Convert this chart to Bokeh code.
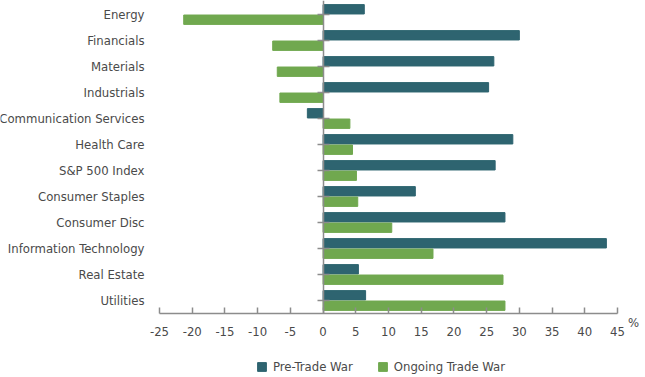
from bokeh.plotting import figure
from bokeh.models import (Range1d, FixedTicker, LinearAxis, CustomJSTickFormatter,
                          Legend, LegendItem, Label, ColumnDataSource)
from bokeh.transform import dodge
from bokeh.embed import file_html
from bokeh.resources import INLINE

categories = ["Energy", "Financials", "Materials", "Industrials",
              "Communication Services", "Health Care", "S&P 500 Index",
              "Consumer Staples", "Consumer Disc", "Information Technology",
              "Real Estate", "Utilities"]
pre_trade_war = [6.3, 30.0, 26.1, 25.3, -2.4, 29.0, 26.3, 14.1, 27.8, 43.3, 5.4, 6.5]
ongoing_trade_war = [-21.3, -7.7, -7.0, -6.6, 4.1, 4.5, 5.1, 5.3, 10.5, 16.8, 27.5, 27.8]
x_ticks = [-25, -20, -15, -10, -5, 0, 5, 10, 15, 20, 25, 30, 35, 40, 45]
series_names = ["Pre-Trade War", "Ongoing Trade War"]

FONT = "DejaVu Sans Condensed"
FS = "13px"
TEXT_COLOR = "#4a4a4a"
AXIS_COLOR = "#8c8c8c"
TEAL = "#2e6470"
GREEN = "#70a84f"

W, H = 645, 377
PLOT_LEFT_PX, PLOT_RIGHT_PX = 159, 617   # pixel span of the value axis
BAND_PX = 26.0                            # pixel height of one category band
TOP_CENTER_PX = 14.0                      # pixel y of first category centre
X_MIN, X_MAX = x_ticks[0], x_ticks[-1]

n = len(categories)
positions = list(range(n))[::-1]          # first category on top
px_per_unit = (PLOT_RIGHT_PX - PLOT_LEFT_PX) / (X_MAX - X_MIN)
x_start = X_MIN - PLOT_LEFT_PX / px_per_unit
x_end = X_MAX + (W - PLOT_RIGHT_PX) / px_per_unit
y_top = positions[0] + TOP_CENTER_PX / BAND_PX
y_bottom = y_top - H / BAND_PX
axis_y = positions[-1] - 0.5

source = ColumnDataSource(dict(pos=positions, cat=categories,
                               pre=pre_trade_war, ongoing=ongoing_trade_war))

p = figure(width=W, height=H,
           x_range=Range1d(x_start, x_end), y_range=Range1d(y_bottom, y_top),
           x_axis_location=None, y_axis_location=None,
           output_backend="svg", toolbar_location=None,
           min_border_left=0, min_border_right=0,
           min_border_top=0, min_border_bottom=0)
p.grid.visible = False
p.outline_line_color = None

r_pre = p.hbar(y=dodge("pos", 0.2), right="pre", left=0, height=0.36,
               source=source, fill_color=TEAL, line_color=TEAL)
r_on = p.hbar(y=dodge("pos", -0.2), right="ongoing", left=0, height=0.36,
              source=source, fill_color=GREEN, line_color=GREEN)

# category labels
cat_axis = LinearAxis(fixed_location=X_MIN, ticker=FixedTicker(ticks=positions),
                      major_label_overrides={pos: c for pos, c in zip(positions, categories)},
                      axis_line_color=None, major_tick_line_color=None,
                      minor_tick_line_color=None, major_label_standoff=9,
                      major_label_text_font=FONT, major_label_text_font_size=FS,
                      major_label_text_color=TEXT_COLOR)
p.add_layout(cat_axis, "left")

# zero line with small ticks at each category
zero_axis = LinearAxis(fixed_location=0, bounds=(axis_y, y_top),
                       ticker=FixedTicker(ticks=positions),
                       formatter=CustomJSTickFormatter(code="return ''"),
                       axis_line_color=AXIS_COLOR, axis_line_width=1.5,
                       major_tick_in=6, major_tick_out=6,
                       major_tick_line_color=AXIS_COLOR, major_tick_line_width=1.5,
                       minor_tick_line_color=None)
p.add_layout(zero_axis, "left")

# value axis
x_axis = LinearAxis(fixed_location=axis_y, bounds=(X_MIN, X_MAX),
                    ticker=FixedTicker(ticks=x_ticks),
                    major_label_overrides={t: str(t) for t in x_ticks},
                    axis_line_color=AXIS_COLOR, axis_line_width=1.5,
                    major_tick_in=6, major_tick_out=0,
                    major_tick_line_color=AXIS_COLOR, major_tick_line_width=1.5,
                    minor_tick_line_color=None, major_label_standoff=13,
                    major_label_text_font=FONT, major_label_text_font_size=FS,
                    major_label_text_color=TEXT_COLOR)
p.add_layout(x_axis, "below")

p.add_layout(Label(x=X_MAX, y=axis_y, x_offset=16, y_offset=-9, text="%",
                   text_baseline="middle", text_align="center",
                   text_font=FONT, text_font_size=FS, text_color=TEXT_COLOR))

legend = Legend(items=[LegendItem(label=series_names[0], renderers=[r_pre]),
                       LegendItem(label=series_names[1], renderers=[r_on])],
                location=(256, 0), orientation="horizontal",
                glyph_width=11, glyph_height=11, label_standoff=6, spacing=24,
                padding=0, margin=0, border_line_color=None,
                background_fill_alpha=0,
                label_text_font=FONT, label_text_font_size=FS,
                label_text_color=TEXT_COLOR, label_height=22)
p.add_layout(legend, "center")

open("out.html", "w").write(file_html(p, INLINE))
